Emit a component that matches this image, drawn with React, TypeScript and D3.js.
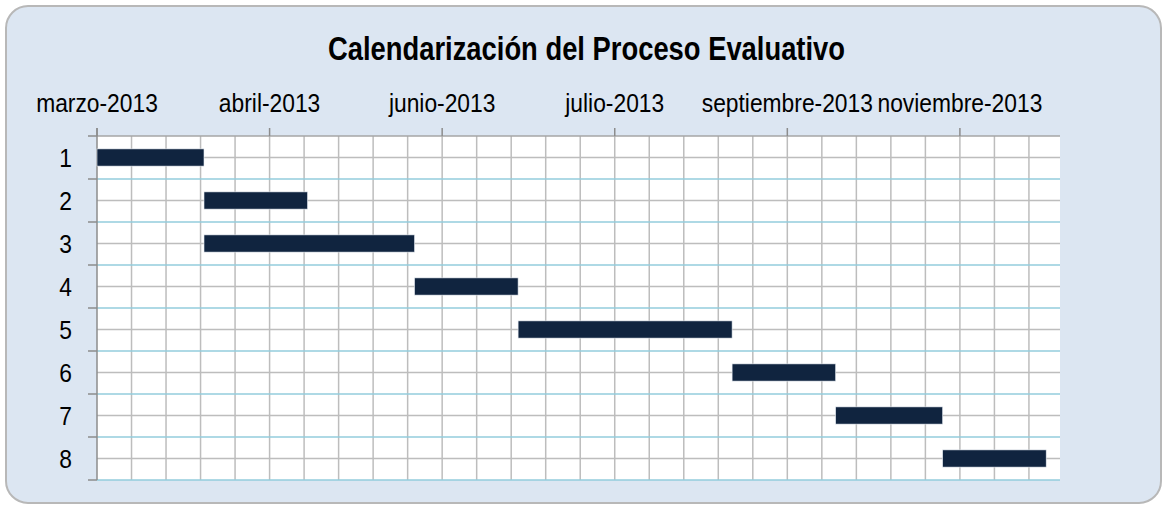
import React from "react";
import * as d3 from "d3";

const title = "Calendarización del Proceso Evaluativo";
const categories = ["1", "2", "3", "4", "5", "6", "7", "8"];
const taskStarts = ["2013-03-01", "2013-04-01", "2013-04-01", "2013-06-01", "2013-07-01", "2013-09-01", "2013-10-01", "2013-11-01"];
const taskEnds = ["2013-04-01", "2013-05-01", "2013-06-01", "2013-07-01", "2013-09-01", "2013-10-01", "2013-11-01", "2013-12-01"];
const axisStart = "2013-03-01";
const axisEnd = "2013-12-05";
const majorUnitDays = 50;
const minorUnitDays = 10;
const tickLabels = ["marzo-2013", "abril-2013", "junio-2013", "julio-2013", "septiembre-2013", "noviembre-2013"];

const W = 1163;
const H = 506;
const plot = { left: 97, right: 1060, top: 136, bottom: 480 };
const FONT = "'Liberation Sans', Arial, sans-serif";

export default function App() {
  const start = new Date(axisStart + "T00:00:00Z");
  const end = new Date(axisEnd + "T00:00:00Z");
  const x = d3.scaleUtc().domain([start, end]).range([plot.left, plot.right]);
  const rows = d3.scaleBand<string>().domain(categories).range([plot.top, plot.bottom]);
  const bars = d3.scaleBand<string>().domain(categories).range([plot.top, plot.bottom]).paddingInner(0.6).paddingOuter(0.3);
  const totalDays = d3.utcDay.count(start, end);
  const minor = d3.range(minorUnitDays, totalDays, minorUnitDays).map((d) => d3.utcDay.offset(start, d));
  const major = d3.range(0, totalDays, majorUnitDays).map((d) => d3.utcDay.offset(start, d));
  const step = rows.step();

  return (
    <svg width={W} height={H} style={{ position: "absolute", left: 0, top: 0 }} xmlns="http://www.w3.org/2000/svg">
      <rect x={6} y={6} width={1155} height={497} rx={22} ry={22} fill="#dce6f2" stroke="#b8b8b8" strokeWidth={2} />
      <text x={586.5} y={59.5} textAnchor="middle" fontFamily={FONT} fontWeight="bold" fontSize={33} textLength={517} lengthAdjust="spacingAndGlyphs" fill="#000">
        {title}
      </text>
      <rect x={plot.left} y={plot.top} width={plot.right - plot.left} height={plot.bottom - plot.top} fill="#ffffff" />
      {minor.map((d, i) => (
        <line key={"v" + i} x1={x(d)} x2={x(d)} y1={plot.top} y2={plot.bottom} stroke="#bdbdbd" strokeWidth={1.5} />
      ))}
      {categories.map((c) => (
        <line key={"hc" + c} x1={plot.left} x2={plot.right} y1={rows(c)! + step / 2} y2={rows(c)! + step / 2} stroke="#bdbdbd" strokeWidth={1.5} />
      ))}
      {categories.map((c) => (
        <line key={"hb" + c} x1={plot.left} x2={plot.right} y1={rows(c)! + step} y2={rows(c)! + step} stroke="#93cddd" strokeWidth={1.5} />
      ))}
      <line x1={plot.left} x2={plot.right} y1={plot.top} y2={plot.top} stroke="#a6a6a6" strokeWidth={1.5} />
      {major.map((d, i) => (
        <line key={"mt" + i} x1={x(d)} x2={x(d)} y1={plot.top - 8} y2={plot.top} stroke="#8c8c8c" strokeWidth={1.5} />
      ))}
      {major.map((d, i) => (
        <text key={"ml" + i} transform={`translate(${x(d)},111.5) scale(0.895,1)`} textAnchor="middle" fontFamily={FONT} fontSize={25.5} fill="#000">
          {tickLabels[i]}
        </text>
      ))}
      <line x1={plot.left} x2={plot.left} y1={plot.top - 8} y2={plot.bottom} stroke="#8c8c8c" strokeWidth={1.5} />
      {d3.range(categories.length + 1).map((i) => (
        <line key={"yt" + i} x1={plot.left - 9} x2={plot.left} y1={plot.top + i * step} y2={plot.top + i * step} stroke="#8c8c8c" strokeWidth={1.5} />
      ))}
      {categories.map((c) => (
        <text key={"yl" + c} transform={`translate(72,${rows(c)! + step / 2 + 9}) scale(0.895,1)`} textAnchor="end" fontFamily={FONT} fontSize={25.5} fill="#000">
          {c}
        </text>
      ))}
      {categories.map((c, i) => {
        const s = new Date(taskStarts[i] + "T00:00:00Z");
        const e = new Date(taskEnds[i] + "T00:00:00Z");
        return (
          <rect key={"b" + c} x={x(s)} y={bars(c)!} width={x(e) - x(s)} height={bars.bandwidth()} fill="#10243f" stroke="#e8edf3" strokeWidth={0.6} />
        );
      })}
    </svg>
  );
}
